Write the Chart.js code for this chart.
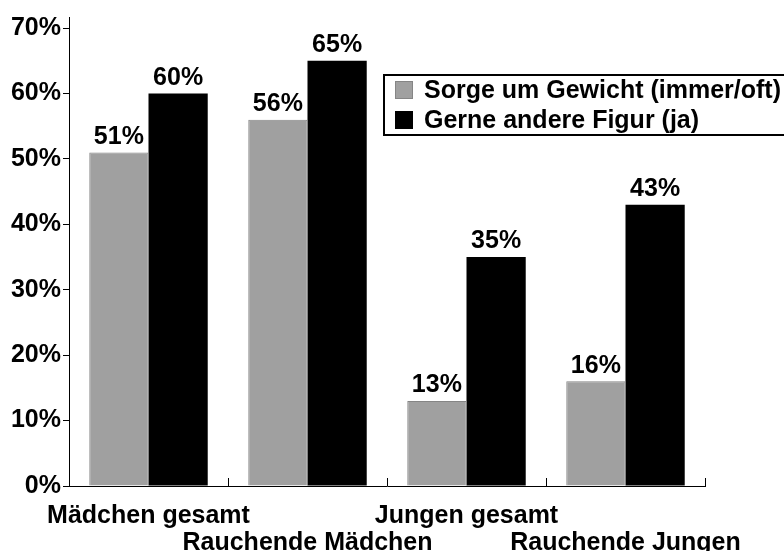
<!DOCTYPE html>
<html lang="de">
<head>
<meta charset="utf-8">
<title>Sorge um Gewicht / Gerne andere Figur</title>
<script src="https://cdn.jsdelivr.net/npm/chart.js@4.4.1/dist/chart.umd.min.js"></script>
<style>
  html, body { margin: 0; padding: 0; background: #fff; }
  #wrap { width: 784px; height: 551px; position: relative; }
</style>
</head>
<body>
<div id="wrap"><canvas id="figurChart"></canvas></div>
<script>
// --- data ---
const categories = [
    ['Mädchen gesamt', ''],
    ['', 'Rauchende Mädchen'],
    ['Jungen gesamt', ''],
    ['', 'Rauchende Jungen']
];
const seriesNames = ['Sorge um Gewicht (immer/oft)', 'Gerne andere Figur (ja)'];
const sorgeGewicht = [51, 56, 13, 16];
const andereFigur = [60, 65, 35, 43];
const yTicks = [0, 10, 20, 30, 40, 50, 60, 70];

const FONT = "'Liberation Sans', Arial, Helvetica, sans-serif";
const FSIZE = 25;
const GREY = '#a0a0a0';

// value labels on top of each bar
const valueLabels = {
    id: 'valueLabels',
    afterDatasetsDraw(chart) {
        const ctx = chart.ctx;
        ctx.save();
        ctx.font = 'bold ' + FSIZE + 'px ' + FONT;
        ctx.fillStyle = '#000';
        ctx.textAlign = 'center';
        ctx.textBaseline = 'bottom';
        chart.data.datasets.forEach((ds, i) => {
            chart.getDatasetMeta(i).data.forEach((bar, j) => {
                ctx.fillText(ds.data[j] + '%', bar.x, bar.y - 3);
            });
        });
        ctx.restore();
    }
};

// small upward ticks between the categories on the x axis
const innerTicks = {
    id: 'innerTicks',
    afterDraw(chart) {
        const x = chart.scales.x;
        const ctx = chart.ctx;
        const n = chart.data.labels.length;
        const step = x.width / n;
        ctx.save();
        ctx.strokeStyle = '#000';
        ctx.lineWidth = 1;
        for (let i = 1; i <= n; i++) {
            const px = Math.round(x.left + step * i) + 0.5;
            ctx.beginPath();
            ctx.moveTo(px, x.top);
            ctx.lineTo(px, x.top - 8);
            ctx.stroke();
        }
        ctx.restore();
    }
};

// boxed legend sitting inside the plot, running off the right edge
const boxLegend = {
    id: 'boxLegend',
    afterDraw(chart) {
        const ctx = chart.ctx;
        const area = chart.chartArea;
        const left = area.left + 315;
        const top = area.top + 58;
        ctx.save();
        ctx.fillStyle = '#fff';
        ctx.fillRect(left, top, 500, 60);
        ctx.strokeStyle = '#000';
        ctx.lineWidth = 2;
        ctx.strokeRect(left, top, 500, 60);
        ctx.font = 'bold ' + FSIZE + 'px ' + FONT;
        ctx.textBaseline = 'middle';
        ctx.textAlign = 'left';
        chart.data.datasets.forEach((ds, i) => {
            const cy = top + 15 + i * 30;
            ctx.fillStyle = ds.backgroundColor;
            ctx.fillRect(left + 11, cy - 9, 18, 18);
            if (ds.borderWidth) {
                ctx.strokeStyle = ds.borderColor;
                ctx.lineWidth = 1;
                ctx.strokeRect(left + 11.5, cy - 8.5, 17, 17);
            }
            ctx.fillStyle = '#000';
            ctx.fillText(ds.label, left + 40, cy + 1);
        });
        ctx.restore();
    }
};

new Chart(document.getElementById('figurChart').getContext('2d'), {
    type: 'bar',
    data: {
        labels: categories,
        datasets: [
            {
                label: seriesNames[0],
                data: sorgeGewicht,
                backgroundColor: GREY,
                borderColor: '#858585',
                borderWidth: 1,
                barPercentage: 1.0,
                categoryPercentage: 0.745
            },
            {
                label: seriesNames[1],
                data: andereFigur,
                backgroundColor: '#000',
                borderColor: '#000',
                borderWidth: 0,
                barPercentage: 1.0,
                categoryPercentage: 0.745
            }
        ]
    },
    options: {
        responsive: true,
        maintainAspectRatio: false,
        animation: false,
        layout: { padding: { left: 0, right: 79, top: 15, bottom: 0 } },
        scales: {
            x: {
                grid: { display: false, drawTicks: false },
                border: { display: true, color: '#000', width: 1 },
                ticks: {
                    color: '#000',
                    font: { family: FONT, size: FSIZE, weight: 'bold', lineHeight: 1.08 },
                    autoSkip: false,
                    maxRotation: 0,
                    padding: 17
                },
                afterFit(scale) { scale.height = 65; }
            },
            y: {
                min: 0,
                max: 71.7,
                afterBuildTicks(scale) {
                    scale.ticks = yTicks.map(v => ({ value: v }));
                },
                grid: { drawOnChartArea: false, drawTicks: true, tickLength: 6, color: '#000' },
                border: { display: true, color: '#000', width: 1 },
                ticks: {
                    color: '#000',
                    font: { family: FONT, size: FSIZE, weight: 'bold' },
                    padding: 2,
                    callback: v => v + '%'
                },
                afterFit(scale) { scale.width = 69; }
            }
        },
        plugins: {
            legend: { display: false },
            tooltip: { enabled: false }
        }
    },
    plugins: [valueLabels, innerTicks, boxLegend]
});
</script>
</body>
</html>
